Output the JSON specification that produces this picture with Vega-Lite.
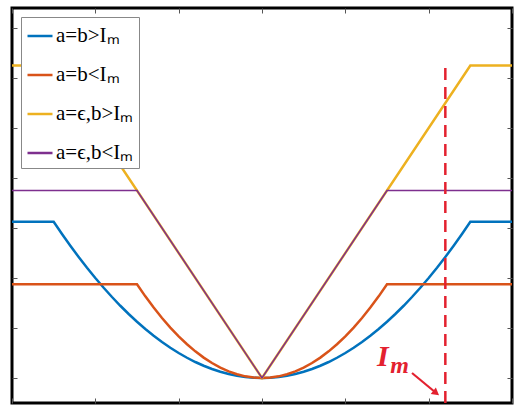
{
  "$schema": "https://vega.github.io/schema/vega-lite/v6.json",
  "width": 500,
  "height": 395,
  "autosize": "none",
  "padding": {"left": 12, "top": 8, "right": 9, "bottom": 14},
  "background": "white",
  "config": {
    "view": {"stroke": "black", "strokeWidth": 3},
    "axis": {
      "labels": false,
      "domain": false,
      "grid": false,
      "title": null,
      "tickSize": -5,
      "tickColor": "#555555",
      "tickWidth": 1
    },
    "legend": {"labelFont": "Liberation Serif", "labelFontSize": 21, "labelColor": "black", "labelLimit": 300}
  },
  "layer": [
    {
      "data": {
        "values": [
          {"s": "a=b>Iₘ", "x": -3, "y": 3.125},
          {"s": "a=b>Iₘ", "x": -2.5, "y": 3.125},
          {"s": "a=b>Iₘ", "x": -2.4, "y": 2.88},
          {"s": "a=b>Iₘ", "x": -2.3, "y": 2.645},
          {"s": "a=b>Iₘ", "x": -2.2, "y": 2.42},
          {"s": "a=b>Iₘ", "x": -2.1, "y": 2.205},
          {"s": "a=b>Iₘ", "x": -2.0, "y": 2.0},
          {"s": "a=b>Iₘ", "x": -1.9, "y": 1.805},
          {"s": "a=b>Iₘ", "x": -1.8, "y": 1.62},
          {"s": "a=b>Iₘ", "x": -1.7, "y": 1.445},
          {"s": "a=b>Iₘ", "x": -1.6, "y": 1.28},
          {"s": "a=b>Iₘ", "x": -1.5, "y": 1.125},
          {"s": "a=b>Iₘ", "x": -1.4, "y": 0.98},
          {"s": "a=b>Iₘ", "x": -1.3, "y": 0.845},
          {"s": "a=b>Iₘ", "x": -1.2, "y": 0.72},
          {"s": "a=b>Iₘ", "x": -1.1, "y": 0.605},
          {"s": "a=b>Iₘ", "x": -1.0, "y": 0.5},
          {"s": "a=b>Iₘ", "x": -0.9, "y": 0.405},
          {"s": "a=b>Iₘ", "x": -0.8, "y": 0.32},
          {"s": "a=b>Iₘ", "x": -0.7, "y": 0.245},
          {"s": "a=b>Iₘ", "x": -0.6, "y": 0.18},
          {"s": "a=b>Iₘ", "x": -0.5, "y": 0.125},
          {"s": "a=b>Iₘ", "x": -0.4, "y": 0.08},
          {"s": "a=b>Iₘ", "x": -0.3, "y": 0.045},
          {"s": "a=b>Iₘ", "x": -0.2, "y": 0.02},
          {"s": "a=b>Iₘ", "x": -0.1, "y": 0.005},
          {"s": "a=b>Iₘ", "x": 0, "y": 0},
          {"s": "a=b>Iₘ", "x": 0.1, "y": 0.005},
          {"s": "a=b>Iₘ", "x": 0.2, "y": 0.02},
          {"s": "a=b>Iₘ", "x": 0.3, "y": 0.045},
          {"s": "a=b>Iₘ", "x": 0.4, "y": 0.08},
          {"s": "a=b>Iₘ", "x": 0.5, "y": 0.125},
          {"s": "a=b>Iₘ", "x": 0.6, "y": 0.18},
          {"s": "a=b>Iₘ", "x": 0.7, "y": 0.245},
          {"s": "a=b>Iₘ", "x": 0.8, "y": 0.32},
          {"s": "a=b>Iₘ", "x": 0.9, "y": 0.405},
          {"s": "a=b>Iₘ", "x": 1.0, "y": 0.5},
          {"s": "a=b>Iₘ", "x": 1.1, "y": 0.605},
          {"s": "a=b>Iₘ", "x": 1.2, "y": 0.72},
          {"s": "a=b>Iₘ", "x": 1.3, "y": 0.845},
          {"s": "a=b>Iₘ", "x": 1.4, "y": 0.98},
          {"s": "a=b>Iₘ", "x": 1.5, "y": 1.125},
          {"s": "a=b>Iₘ", "x": 1.6, "y": 1.28},
          {"s": "a=b>Iₘ", "x": 1.7, "y": 1.445},
          {"s": "a=b>Iₘ", "x": 1.8, "y": 1.62},
          {"s": "a=b>Iₘ", "x": 1.9, "y": 1.805},
          {"s": "a=b>Iₘ", "x": 2.0, "y": 2.0},
          {"s": "a=b>Iₘ", "x": 2.1, "y": 2.205},
          {"s": "a=b>Iₘ", "x": 2.2, "y": 2.42},
          {"s": "a=b>Iₘ", "x": 2.3, "y": 2.645},
          {"s": "a=b>Iₘ", "x": 2.4, "y": 2.88},
          {"s": "a=b>Iₘ", "x": 2.5, "y": 3.125},
          {"s": "a=b>Iₘ", "x": 3, "y": 3.125},
          {"s": "a=b<Iₘ", "x": -3, "y": 1.875},
          {"s": "a=b<Iₘ", "x": -1.5, "y": 1.875},
          {"s": "a=b<Iₘ", "x": -1.4, "y": 1.633},
          {"s": "a=b<Iₘ", "x": -1.3, "y": 1.408},
          {"s": "a=b<Iₘ", "x": -1.2, "y": 1.2},
          {"s": "a=b<Iₘ", "x": -1.1, "y": 1.008},
          {"s": "a=b<Iₘ", "x": -1.0, "y": 0.833},
          {"s": "a=b<Iₘ", "x": -0.9, "y": 0.675},
          {"s": "a=b<Iₘ", "x": -0.8, "y": 0.533},
          {"s": "a=b<Iₘ", "x": -0.7, "y": 0.408},
          {"s": "a=b<Iₘ", "x": -0.6, "y": 0.3},
          {"s": "a=b<Iₘ", "x": -0.5, "y": 0.208},
          {"s": "a=b<Iₘ", "x": -0.4, "y": 0.133},
          {"s": "a=b<Iₘ", "x": -0.3, "y": 0.075},
          {"s": "a=b<Iₘ", "x": -0.2, "y": 0.033},
          {"s": "a=b<Iₘ", "x": -0.1, "y": 0.008},
          {"s": "a=b<Iₘ", "x": 0, "y": 0},
          {"s": "a=b<Iₘ", "x": 0.1, "y": 0.008},
          {"s": "a=b<Iₘ", "x": 0.2, "y": 0.033},
          {"s": "a=b<Iₘ", "x": 0.3, "y": 0.075},
          {"s": "a=b<Iₘ", "x": 0.4, "y": 0.133},
          {"s": "a=b<Iₘ", "x": 0.5, "y": 0.208},
          {"s": "a=b<Iₘ", "x": 0.6, "y": 0.3},
          {"s": "a=b<Iₘ", "x": 0.7, "y": 0.408},
          {"s": "a=b<Iₘ", "x": 0.8, "y": 0.533},
          {"s": "a=b<Iₘ", "x": 0.9, "y": 0.675},
          {"s": "a=b<Iₘ", "x": 1.0, "y": 0.833},
          {"s": "a=b<Iₘ", "x": 1.1, "y": 1.008},
          {"s": "a=b<Iₘ", "x": 1.2, "y": 1.2},
          {"s": "a=b<Iₘ", "x": 1.3, "y": 1.408},
          {"s": "a=b<Iₘ", "x": 1.4, "y": 1.633},
          {"s": "a=b<Iₘ", "x": 1.5, "y": 1.875},
          {"s": "a=b<Iₘ", "x": 3, "y": 1.875},
          {"s": "a=ϵ,b>Iₘ", "x": -3, "y": 6.25},
          {"s": "a=ϵ,b>Iₘ", "x": -2.5, "y": 6.25},
          {"s": "a=ϵ,b>Iₘ", "x": 0, "y": 0},
          {"s": "a=ϵ,b>Iₘ", "x": 2.5, "y": 6.25},
          {"s": "a=ϵ,b>Iₘ", "x": 3, "y": 6.25},
          {"s": "a=ϵ,b<Iₘ", "x": -3, "y": 3.75},
          {"s": "a=ϵ,b<Iₘ", "x": -1.5, "y": 3.75},
          {"s": "a=ϵ,b<Iₘ", "x": 0, "y": 0},
          {"s": "a=ϵ,b<Iₘ", "x": 1.5, "y": 3.75},
          {"s": "a=ϵ,b<Iₘ", "x": 3, "y": 3.75}
        ]
      },
      "mark": {"type": "line"},
      "encoding": {
        "x": {
          "field": "x",
          "type": "quantitative",
          "scale": {"domain": [-3, 3], "nice": false, "zero": false},
          "axis": {"orient": "bottom", "values": [-3, -2, -1, 0, 1, 2, 3]}
        },
        "y": {
          "field": "y",
          "type": "quantitative",
          "scale": {"domain": [-0.5, 7.4], "nice": false, "zero": false},
          "axis": {"orient": "left", "values": [0, 1, 2, 3, 4, 5, 6, 7]}
        },
        "color": {
          "field": "s",
          "type": "nominal",
          "scale": {
            "domain": ["a=b>Iₘ", "a=b<Iₘ", "a=ϵ,b>Iₘ", "a=ϵ,b<Iₘ"],
            "range": ["#0072BD", "#D95319", "#EDB120", "#7E2F8E"]
          },
          "legend": {
            "orient": "none",
            "legendX": 9,
            "legendY": 9,
            "title": null,
            "symbolType": "stroke",
            "symbolSize": 625,
            "symbolStrokeWidth": 2.5,
            "labelFont": "Liberation Serif",
            "labelFontSize": 21,
            "labelColor": "black",
            "labelOffset": 2,
            "labelLimit": 300,
            "strokeColor": "#888888",
            "fillColor": "white",
            "padding": 5,
            "rowPadding": 15
          }
        },
        "strokeWidth": {
          "condition": {"test": "datum.s === 'a=ϵ,b<Iₘ'", "value": 1.5},
          "value": 2.5
        }
      }
    },
    {
      "data": {"values": [{"x": 2.2, "y": -0.5, "y2": 6.2}]},
      "mark": {"type": "rule", "color": "#E3212F", "strokeWidth": 2.5, "strokeDash": [12, 7]},
      "encoding": {
        "x": {"field": "x", "type": "quantitative", "axis": {"orient": "top", "values": [-3, -2, -1, 0, 1, 2, 3]}},
        "y": {"field": "y", "type": "quantitative", "axis": {"orient": "right", "values": [0, 1, 2, 3, 4, 5, 6, 7]}},
        "y2": {"field": "y2"}
      }
    },
    {
      "data": {"values": [{"x": 1.38, "y": 0.24, "t": "I", "sz": 30}, {"x": 1.54, "y": 0.1, "t": "m", "sz": 24}]},
      "mark": {"type": "text", "color": "#E3212F", "font": "Liberation Serif", "fontWeight": "bold", "fontStyle": "italic", "align": "left", "baseline": "alphabetic"},
      "encoding": {
        "x": {"field": "x", "type": "quantitative", "axis": null},
        "y": {"field": "y", "type": "quantitative", "axis": null},
        "text": {"field": "t"},
        "size": {"field": "sz", "type": "quantitative", "scale": null}
      }
    },
    {
      "data": {"values": [{"x": 1.8, "y": 0.1}, {"x": 2.09, "y": -0.3}]},
      "mark": {"type": "line", "color": "#E3212F", "strokeWidth": 2.2},
      "encoding": {
        "x": {"field": "x", "type": "quantitative", "axis": null},
        "y": {"field": "y", "type": "quantitative", "axis": null}
      }
    },
    {
      "data": {"values": [{"x": 2.09, "y": -0.3}]},
      "mark": {"type": "point", "shape": "triangle-up", "filled": true, "color": "#E3212F", "size": 70, "angle": 128, "opacity": 1},
      "encoding": {
        "x": {"field": "x", "type": "quantitative", "axis": null},
        "y": {"field": "y", "type": "quantitative", "axis": null}
      }
    }
  ],
  "resolve": {"axis": {"x": "independent", "y": "independent"}}
}
